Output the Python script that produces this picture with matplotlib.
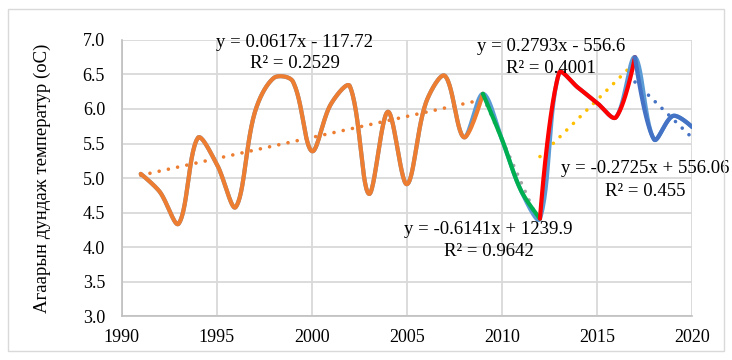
import numpy as np
import matplotlib
matplotlib.use("Agg")
import matplotlib.pyplot as plt

plt.rcParams['font.family'] = ['Liberation Serif', 'DejaVu Serif']

# annual mean air temperature
years = list(range(1991, 2021))
temps = [5.06, 4.80, 4.34, 5.58, 5.20, 4.58, 5.95, 6.45, 6.40, 5.39,
         6.07, 6.33, 4.77, 5.96, 4.91, 6.09, 6.48, 5.59, 6.22, 5.56,
         4.82, 4.41, 6.52, 6.31, 6.09, 5.88, 6.75, 5.56, 5.90, 5.74]

# periods (start year, end year), line colour, trend colour
periods = [(1991, 2009), (2009, 2012), (2012, 2017), (2017, 2020)]
line_colors = ['#ED7D31', '#00B050', '#FF0000', '#4472C4']
trend_colors = ['#ED7D31', '#A5A5A5', '#FFC000', '#4472C4']
trend_labels = [
    ("y = 0.0617x - 117.72", "R² = 0.2529"),
    ("y = -0.6141x + 1239.9", "R² = 0.9642"),
    ("y = 0.2793x - 556.6", "R² = 0.4001"),
    ("y = -0.2725x + 556.06", "R² = 0.455"),
]
# label anchors (x year, y of first line, y of second line)
label_pos = [(1999.1, 6.96, 6.66),
             (2009.3, 4.25, 3.93),
             (2012.6, 6.90, 6.59),
             (2017.55, 5.14, 4.80)]


def smooth(x, y, n=30, sx=19.0, sy=69.0):
    # Excel-like smoothed line: Bezier through the points, tangents split by chord length
    x = np.asarray(x, float)
    y = np.asarray(y, float)
    m = len(x)
    d = np.hypot(np.diff(x) * sx, np.diff(y) * sy)
    cout, cin = [], []
    for i in range(m):
        if i == 0 or i == m - 1:
            tx, ty, wp, wn = 0.0, 0.0, 0.5, 0.5
        else:
            tx, ty = x[i + 1] - x[i - 1], y[i + 1] - y[i - 1]
            wp = d[i - 1] / (d[i - 1] + d[i])
            wn = d[i] / (d[i - 1] + d[i])
        cout.append((x[i] + tx * wn / 3, y[i] + ty * wn / 3))
        cin.append((x[i] - tx * wp / 3, y[i] - ty * wp / 3))
    xs, ys = [], []
    t = np.linspace(0, 1, n)
    for i in range(m - 1):
        b = [(1 - t) ** 3, 3 * (1 - t) ** 2 * t, 3 * (1 - t) * t ** 2, t ** 3]
        px = [x[i], cout[i][0], cin[i + 1][0], x[i + 1]]
        py = [y[i], cout[i][1], cin[i + 1][1], y[i + 1]]
        xs.extend(sum(bb * p for bb, p in zip(b, px)))
        ys.extend(sum(bb * p for bb, p in zip(b, py)))
    return xs, ys


fig = plt.figure(figsize=(7.32, 3.6), dpi=100)
ax = fig.add_axes([0.1663, 0.1222, 0.7791, 0.7667])

# outer chart border
fig.patches.append(plt.Rectangle((0.011, 0.025), 0.978, 0.95, transform=fig.transFigure,
                                 fill=False, edgecolor='#d9d9d9', lw=1))

sx, sy = smooth(years, temps)
ax.plot(sx, sy, color='#5B9BD5', lw=3, solid_capstyle='round', zorder=3)

for (a, b), lc, tc in zip(periods, line_colors, trend_colors):
    i0, i1 = years.index(a), years.index(b) + 1
    xs, ys = years[i0:i1], temps[i0:i1]
    k, c = np.polyfit(xs, ys, 1)
    tx = np.array([a, b])
    ax.plot(tx, k * tx + c, color=tc, lw=2.6, linestyle=(0, (0.01, 2.6)),
            dash_capstyle='round', zorder=2)
    gx, gy = smooth(xs, ys)
    ax.plot(gx, gy, color=lc, lw=3, solid_capstyle='round', zorder=4)

for (l1, l2), (x, y1, y2) in zip(trend_labels, label_pos):
    ax.text(x, y1, l1, ha='center', va='center', fontsize=13.5, clip_on=False, zorder=5)
    ax.text(x, y2, l2, ha='center', va='center', fontsize=13.5, clip_on=False, zorder=5)

ax.set_xlim(1990, 2020)
ax.set_ylim(3.0, 7.0)
ax.set_xticks(range(1990, 2021, 5))
ax.set_yticks(np.arange(3.0, 7.01, 0.5))
ax.set_yticklabels([f"{v:.1f}" for v in np.arange(3.0, 7.01, 0.5)])
ax.grid(True, color='#d9d9d9', lw=1.3)
ax.set_axisbelow(True)
for s in ['top', 'right']:
    ax.spines[s].set_visible(False)
for s in ['left', 'bottom']:
    ax.spines[s].set_color('#bfbfbf')
    ax.spines[s].set_linewidth(1.2)
ax.tick_params(length=0, labelsize=13)
ax.tick_params(axis='y', pad=12)
ax.tick_params(axis='x', pad=9)
ax.set_ylabel("Агаарын дундаж температур (oC)", fontsize=13.5)
ax.yaxis.set_label_coords(-0.124, 0.5)

fig.savefig("out.png", dpi=100)
